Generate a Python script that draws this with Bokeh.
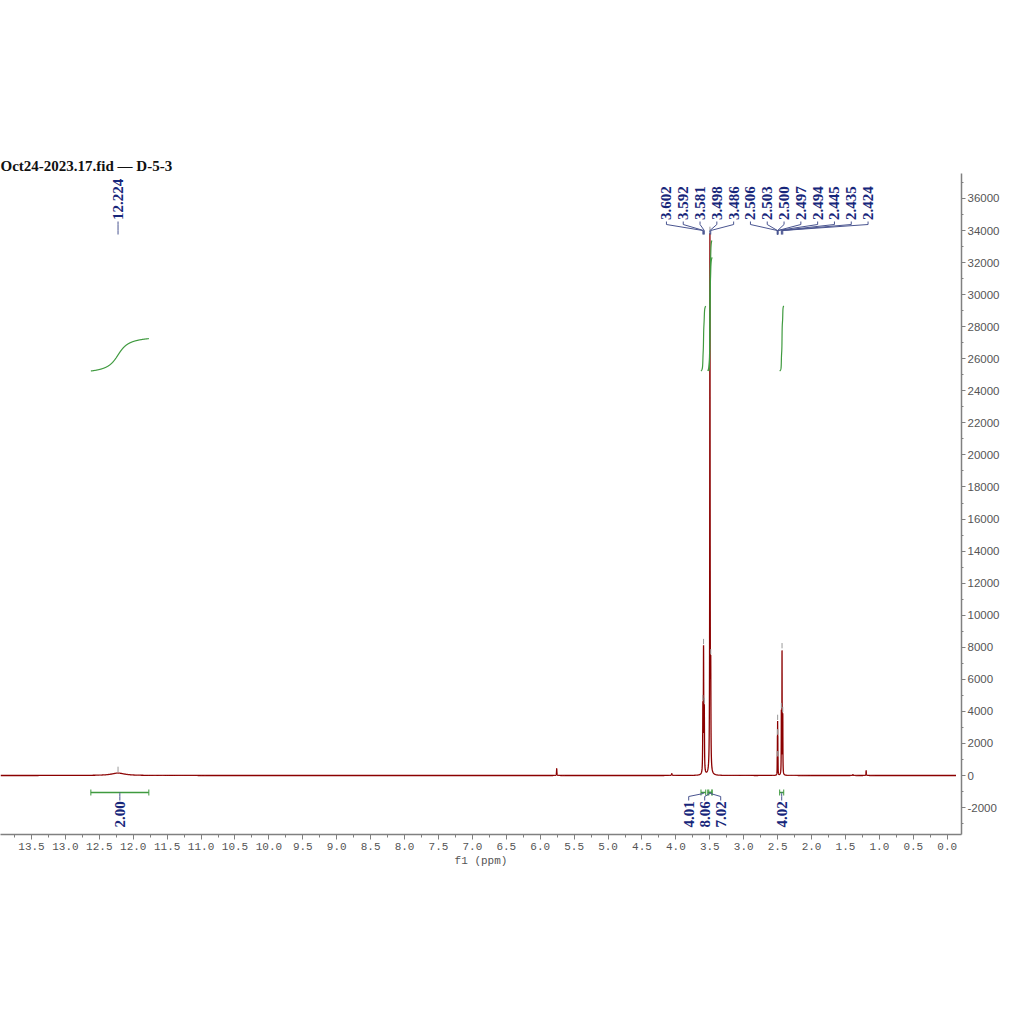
import numpy as np
from bokeh.plotting import figure
from bokeh.models import Range1d, FixedTicker, PrintfTickFormatter, NumeralTickFormatter
from bokeh.core.properties import value
from bokeh.embed import file_html
from bokeh.resources import INLINE

# ---------------- data ----------------
title_text = "Oct24-2023.17.fid \u2014 D-5-3"

# spectrum peaks (ppm, amplitude, half width)
peak_ppm = [12.224, 5.757, 4.060, 3.602, 3.592, 3.581, 3.498, 3.486,
            2.506, 2.503, 2.500, 2.497, 2.494, 2.445, 2.435, 2.424, 1.390, 1.195]
peak_height = [150, 430, 110, 3900, 7500, 3800, 33500, 5500,
               700, 1900, 2800, 1900, 700, 3800, 7600, 3600, 50, 300]
peak_hwhm = [0.12, 0.003, 0.006, 0.003, 0.003, 0.003, 0.003, 0.003,
             0.0012, 0.0012, 0.0012, 0.0012, 0.0012, 0.002, 0.002, 0.002, 0.006, 0.003]

# peak picking labels
single_label_ppm = [12.224]
single_label_text = ["12.224"]
multi_label_ppm = [3.602, 3.592, 3.581, 3.498, 3.486, 2.506, 2.503, 2.500,
                   2.497, 2.494, 2.445, 2.435, 2.424]
multi_label_text = ["3.602", "3.592", "3.581", "3.498", "3.486", "2.506", "2.503",
                    "2.500", "2.497", "2.494", "2.445", "2.435", "2.424"]

# integrals
integral_from = [12.625, 3.630, 3.530, 3.515, 2.470]
integral_to = [11.770, 3.560, 3.470, 3.465, 2.410]
integral_value = [2.00, 4.01, 8.06, 7.02, 4.02]
integral_text = ["2.00", "4.01", "8.06", "7.02", "4.02"]

# axis ticks
x_ticks = [0.0, 0.5, 1.0, 1.5, 2.0, 2.5, 3.0, 3.5, 4.0, 4.5, 5.0, 5.5, 6.0, 6.5,
           7.0, 7.5, 8.0, 8.5, 9.0, 9.5, 10.0, 10.5, 11.0, 11.5, 12.0, 12.5, 13.0, 13.5]
x_minor_ticks = [0.25, 0.75, 1.25, 1.75, 2.25, 2.75, 3.25, 3.75, 4.25, 4.75, 5.25,
                 5.75, 6.25, 6.75, 7.25, 7.75, 8.25, 8.75, 9.25, 9.75, 10.25, 10.75,
                 11.25, 11.75, 12.25, 12.75, 13.25, 13.75]
y_ticks = [-2000, 0, 2000, 4000, 6000, 8000, 10000, 12000, 14000, 16000, 18000,
           20000, 22000, 24000, 26000, 28000, 30000, 32000, 34000, 36000]
y_minor_ticks = [-3000, -1000, 1000, 3000, 5000, 7000, 9000, 11000, 13000, 15000,
                 17000, 19000, 21000, 23000, 25000, 27000, 29000, 31000, 33000,
                 35000, 37000]

# ---------------- layout helpers (page pixel <-> data) ----------------
X0, KX = 946.7, 67.83      # page x of 0 ppm, px per ppm
Y0, KY = 775.0, 0.0160278  # page y of 0 intensity, px per unit


def ppm_at(px):
    return (X0 - px) / KX


def val_at(py):
    return (Y0 - py) / KY


def spectrum(x):
    y = np.zeros_like(x)
    for c, h, w in zip(peak_ppm, peak_height, peak_hwhm):
        y += h / (1.0 + ((x - c) / w) ** 2)
    return y


NAVY = "#17267a"
CONN = "#4a5590"
GREEN = "#3f9a3f"
RED = "#8b0000"
AXIS = "#808080"
TXT = "#555555"

p = figure(frame_width=961, frame_height=661,
           x_range=Range1d(ppm_at(0), ppm_at(961)),
           y_range=Range1d(val_at(834), val_at(173)),
           y_axis_location="right", output_backend="svg", toolbar_location=None,
           min_border_left=0, min_border_right=55, min_border_top=173,
           min_border_bottom=50, title=title_text)
p.outline_line_color = None
p.xgrid.grid_line_color = None
p.ygrid.grid_line_color = None

p.title.align = "left"
p.title.text_font = "Liberation Serif"
p.title.text_font_style = "bold"
p.title.text_font_size = "15px"
p.title.text_color = "#111111"
p.title.offset = 0
p.title.standoff = 0

# axes
xa = p.xaxis[0]
xa.ticker = FixedTicker(ticks=x_ticks, minor_ticks=x_minor_ticks)
xa.formatter = PrintfTickFormatter(format="%.1f")
xa.axis_line_color = AXIS
xa.axis_line_width = 1.5
xa.major_tick_line_color = AXIS
xa.minor_tick_line_color = AXIS
xa.major_tick_in = 0
xa.major_tick_out = 5
xa.minor_tick_in = 0
xa.minor_tick_out = 3
xa.major_label_text_font = "Liberation Mono"
xa.major_label_text_font_size = "11px"
xa.major_label_text_color = TXT
xa.major_label_standoff = 3
xa.axis_label = "f1 (ppm)"
xa.axis_label_text_font = "Liberation Mono"
xa.axis_label_text_font_size = "11px"
xa.axis_label_text_font_style = "normal"
xa.axis_label_text_color = TXT
xa.axis_label_standoff = 2

ya = p.yaxis[0]
ya.ticker = FixedTicker(ticks=y_ticks, minor_ticks=y_minor_ticks)
ya.formatter = NumeralTickFormatter(format="0")
ya.axis_line_color = AXIS
ya.axis_line_width = 1.5
ya.major_tick_line_color = AXIS
ya.minor_tick_line_color = AXIS
ya.major_tick_in = 0
ya.major_tick_out = 4
ya.minor_tick_in = 0
ya.minor_tick_out = 2
ya.major_label_text_font = "Liberation Sans"
ya.major_label_text_font_size = "11.5px"
ya.major_label_text_color = TXT
ya.major_label_standoff = 2

# spectrum
xs = np.arange(-0.13, ppm_at(0), 0.0004)
p.line(xs, spectrum(xs), line_color=RED, line_width=1.3)

# peak top markers
lab_ppm_all = single_label_ppm + multi_label_ppm
tops = spectrum(np.array(lab_ppm_all, dtype=float))
p.segment(x0=lab_ppm_all, x1=lab_ppm_all, y0=tops + 70, y1=tops + 400,
          line_color="#9a9a9a", line_width=1)

# integral curves
INT_BASE = val_at(370.5)
INT_SCALE = 1010.0
for a, b, v in zip(integral_from, integral_to, integral_value):
    ix = np.linspace(a, b, 600)
    iy = np.cumsum(spectrum(ix))
    iy = (iy - iy[0]) / (iy[-1] - iy[0])
    p.line(ix, INT_BASE + iy * v * INT_SCALE, line_color=GREEN, line_width=1.2)

# integral marks below the baseline
yb = val_at(792)
p.segment(x0=integral_from, x1=integral_to, y0=[yb] * 5, y1=[yb] * 5,
          line_color=GREEN, line_width=1.3)
p.segment(x0=integral_from + integral_to, x1=integral_from + integral_to,
          y0=[val_at(789)] * 10, y1=[val_at(795)] * 10, line_color=GREEN, line_width=1)

# integral label positions (spread the crowded group)
mids = [(a + b) / 2 for a, b in zip(integral_from, integral_to)]
grp_c, grp_gap = 3.575, 0.236
int_lab_x = [mids[0], grp_c + grp_gap, grp_c, grp_c - grp_gap, mids[4]]
cx, cy = [], []
for lx, mx in zip(int_lab_x, mids):
    cx.append([lx, lx, mx, mx])
    cy.append([val_at(800), val_at(796), val_at(793), yb])
p.multi_line(cx, cy, line_color=CONN, line_width=1)
p.text(x=int_lab_x, y=[val_at(827)] * 5, text=integral_text, angle=np.pi / 2,
       text_align="left", text_baseline="middle", text_color=NAVY,
       text_font=value("Liberation Serif"), text_font_style="bold",
       text_font_size="15px")

# peak labels
lab_center, lab_gap = 2.653, 0.2477
n = len(multi_label_ppm)
multi_lab_x = [lab_center + lab_gap * ((n - 1) / 2 - i) for i in range(n)]
all_lab_x = single_label_ppm + multi_lab_x
all_lab_text = single_label_text + multi_label_text
px_, py_ = [], []
for lx, pk in zip(all_lab_x, lab_ppm_all):
    px_.append([lx, lx, pk, pk])
    py_.append([val_at(221), val_at(224), val_at(230), val_at(234)])
p.multi_line(px_, py_, line_color=CONN, line_width=1)
p.text(x=all_lab_x, y=[val_at(219.5)] * len(all_lab_x), text=all_lab_text,
       angle=np.pi / 2, text_align="left", text_baseline="middle", text_color=NAVY,
       text_font=value("Liberation Serif"), text_font_style="bold",
       text_font_size="15px")

open("out.html", "w").write(file_html(p, INLINE))
